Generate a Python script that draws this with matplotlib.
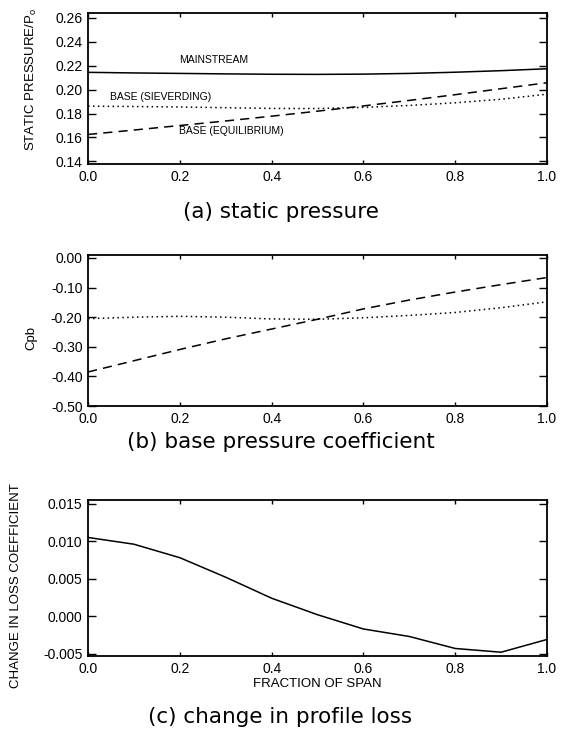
import matplotlib

matplotlib.use("Agg")
import matplotlib.pyplot as plt
from matplotlib.ticker import FormatStrFormatter, MultipleLocator

# Fraction of span at which the profiles were sampled.
span = [0.0, 0.1, 0.2, 0.3, 0.4, 0.5, 0.6, 0.7, 0.8, 0.9, 1.0]

# (a) static pressure ratios.
p_mainstream = [0.2145, 0.2140, 0.2136, 0.2132, 0.2129, 0.2128, 0.2130, 0.2136, 0.2146, 0.2159, 0.2175]
p_base_sieverding = [0.1862, 0.1859, 0.1855, 0.1849, 0.1843, 0.1842, 0.1852, 0.1868, 0.1890, 0.1920, 0.1962]
p_base_equilibrium = [0.1625, 0.1662, 0.1700, 0.1738, 0.1778, 0.1820, 0.1864, 0.1910, 0.1958, 0.2008, 0.2058]

# (b) base pressure coefficient.
cpb_equilibrium = [-0.385, -0.347, -0.309, -0.273, -0.240, -0.207, -0.172, -0.142, -0.115, -0.090, -0.066]
cpb_sieverding = [-0.205, -0.200, -0.197, -0.200, -0.206, -0.207, -0.202, -0.194, -0.184, -0.168, -0.148]

# (c) change in profile loss coefficient.
loss_change = [0.0105, 0.0096, 0.0078, 0.0052, 0.0024, 0.0002, -0.0017, -0.0027, -0.0043, -0.0048, -0.0031]

LABEL_FONT = ["Liberation Sans", "DejaVu Sans"]
CAPTION_FONT = ["DejaVu Sans"]
DASHED = (0, (6, 4))
DOTTED = (0, (1, 2.2))


def style_axes(ax, ylim, ystep, yfmt):
    """IDL-like frame: inward ticks on all sides, no minor ticks."""
    ax.set_xlim(0.0, 1.0)
    ax.set_ylim(*ylim)
    ax.xaxis.set_major_locator(MultipleLocator(0.2))
    ax.yaxis.set_major_locator(MultipleLocator(ystep))
    ax.xaxis.set_major_formatter(FormatStrFormatter("%.1f"))
    ax.yaxis.set_major_formatter(FormatStrFormatter(yfmt))
    ax.tick_params(axis="x", direction="in", top=True, length=3, width=1.0, pad=4, labelsize=10)
    ax.tick_params(axis="y", direction="in", right=True, length=5.5, width=1.0, pad=4, labelsize=10)
    for label in ax.get_xticklabels() + ax.get_yticklabels():
        label.set_family(LABEL_FONT)
    for spine in ax.spines.values():
        spine.set_linewidth(1.3)


fig = plt.figure(figsize=(5.61, 7.45), dpi=100)

ax_a = fig.add_axes([0.157, 0.7799, 0.818, 0.2027])
ax_b = fig.add_axes([0.157, 0.4550, 0.818, 0.2027])
ax_c = fig.add_axes([0.157, 0.1195, 0.818, 0.2094])

# (a) static pressure
ax_a.plot(span, p_mainstream, color="black", lw=1.1)
ax_a.plot(span, p_base_sieverding, color="black", lw=1.1, linestyle=DOTTED)
ax_a.plot(span, p_base_equilibrium, color="black", lw=1.1, linestyle=DASHED)
style_axes(ax_a, (0.1378, 0.2642), 0.02, "%.2f")
ax_a.set_ylabel("STATIC PRESSURE/P$_\\mathregular{o}$", family=LABEL_FONT, fontsize=9.5)
ax_a.yaxis.set_label_coords(-0.107, 0.56)
ax_a.text(0.198, 0.225, "MAINSTREAM", family=LABEL_FONT, fontsize=7.5, va="center")
ax_a.text(0.048, 0.1935, "BASE (SIEVERDING)", family=LABEL_FONT, fontsize=7.5, va="center")
ax_a.text(0.198, 0.1655, "BASE (EQUILIBRIUM)", family=LABEL_FONT, fontsize=7.5, va="center")

# (b) base pressure coefficient
ax_b.plot(span, cpb_sieverding, color="black", lw=1.1, linestyle=DOTTED)
ax_b.plot(span, cpb_equilibrium, color="black", lw=1.1, linestyle=DASHED)
style_axes(ax_b, (-0.5, 0.01), 0.1, "%.2f")
ax_b.set_ylabel("Cpb", family=LABEL_FONT, fontsize=9.5)
ax_b.yaxis.set_label_coords(-0.111, 0.45)

# (c) change in profile loss
ax_c.plot(span, loss_change, color="black", lw=1.1)
style_axes(ax_c, (-0.0053, 0.0155), 0.005, "%.3f")
ax_c.set_ylabel("CHANGE IN LOSS COEFFICIENT", family=LABEL_FONT, fontsize=9.5)
ax_c.yaxis.set_label_coords(-0.144, 0.45)
ax_c.set_xlabel("FRACTION OF SPAN", family=LABEL_FONT, fontsize=9.5, labelpad=2)

# Panel captions
fig.text(0.5, 1 - 212 / 745, "(a) static pressure", family=CAPTION_FONT, fontsize=15.5, ha="center", va="center")
fig.text(0.5, 1 - 442 / 745, "(b) base pressure coefficient", family=CAPTION_FONT, fontsize=15.5, ha="center", va="center")
fig.text(0.5, 1 - 717 / 745, "(c) change in profile loss", family=CAPTION_FONT, fontsize=15.5, ha="center", va="center")

fig.savefig("out.png", dpi=100)
